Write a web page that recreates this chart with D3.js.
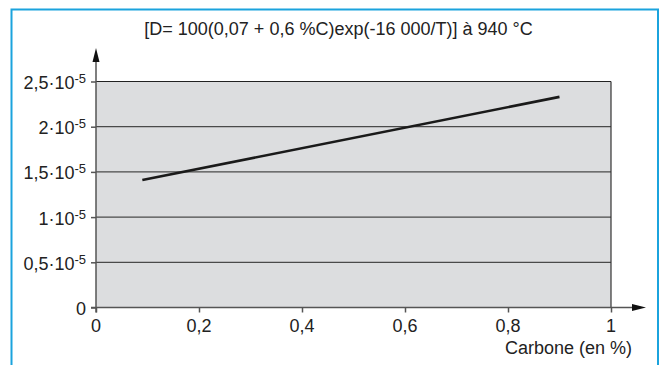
<!DOCTYPE html>
<html><head><meta charset="utf-8">
<script src="https://cdn.jsdelivr.net/npm/d3@7"></script>
<style>body{margin:0;background:#fff}svg{display:block;font-family:"Liberation Sans",Arial,sans-serif}</style>
</head><body>
<svg id="c" width="664" height="365"></svg>
<script>
const title = "[D= 100(0,07 + 0,6 %C)exp(-16 000/T)] à 940 °C";
const xLabel = "Carbone (en %)";
const xTicks = [0, 0.2, 0.4, 0.6, 0.8, 1];
const xTickLabels = ["0", "0,2", "0,4", "0,6", "0,8", "1"];
const yTicks = [0, 0.5e-5, 1e-5, 1.5e-5, 2e-5, 2.5e-5];
const yTickMant = ["0", "0,5", "1", "1,5", "2", "2,5"];
const carbon = [0.09, 0.9];
const diffusivity = [1.41e-5, 2.33e-5];

const svg = d3.select("#c");
const x = d3.scaleLinear().domain([0, 1]).range([96, 611]);
const y = d3.scaleLinear().domain([0, 2.5e-5]).range([307.5, 81.5]);

// frame
svg.append("path").attr("d", "M11.5,365 V9.5 H658 V365").attr("fill","none").attr("stroke","#1ba3dd").attr("stroke-width",2);

// plot background
svg.append("rect").attr("x", x(0)).attr("y", y(2.5e-5)).attr("width", x(1)-x(0)).attr("height", y(0)-y(2.5e-5)).attr("fill", "#dcdddf");

// grid
svg.append("g").selectAll("line").data(yTicks.filter(d=>d>0)).join("line")
  .attr("x1", x(0)).attr("x2", x(1)).attr("y1", d=>y(d)).attr("y2", d=>y(d))
  .attr("stroke", d=> d===2.5e-5 ? "#222" : "#4a4a4a").attr("stroke-width", 1.2);
svg.append("line").attr("x1", x(1)).attr("x2", x(1)).attr("y1", y(2.5e-5)).attr("y2", y(0)).attr("stroke","#333").attr("stroke-width",1.2);

// axes
const yAxis = d3.axisLeft(y).tickValues(yTicks).tickSize(5).tickFormat("");
const gy = svg.append("g").attr("transform", `translate(${x(0)},0)`).call(yAxis);
gy.select(".domain").remove();
gy.selectAll(".tick line").attr("stroke","#555").attr("stroke-width",1.5);
const xAxis = d3.axisBottom(x).tickValues(xTicks).tickSize(5).tickFormat("");
const gx = svg.append("g").attr("transform", `translate(0,${y(0)})`).call(xAxis);
gx.select(".domain").remove();
gx.selectAll(".tick line").attr("stroke","#555").attr("stroke-width",1.5);

svg.append("line").attr("x1", x(0)).attr("x2", x(0)).attr("y1", y(0)+5).attr("y2", 58).attr("stroke","#555").attr("stroke-width",1.5);
svg.append("line").attr("x1", x(0)-5).attr("x2", 636).attr("y1", y(0)).attr("y2", y(0)).attr("stroke","#555").attr("stroke-width",1.5);
svg.append("path").attr("d", `M${x(0)},48 L${x(0)+3.5},62 L${x(0)-3.5},62 Z`).attr("fill","#111");
svg.append("path").attr("d", `M646,${y(0)} L632,${y(0)-3.5} L632,${y(0)+3.5} Z`).attr("fill","#111");

// tick labels
svg.append("g").selectAll("text").data(xTicks).join("text")
  .attr("x", d=>x(d)).attr("y", 332).attr("text-anchor","middle")
  .attr("font-size", 18).attr("fill","#222").text((d,i)=>xTickLabels[i]);

const yl = svg.append("g").selectAll("text").data(yTicks).join("text")
  .attr("x", 86).attr("y", d=>y(d)+7.5).attr("text-anchor","end")
  .attr("font-size", 18).attr("fill","#222");
yl.each(function(d,i){
  const t = d3.select(this);
  if (d === 0) { t.text("0"); return; }
  t.append("tspan").text(yTickMant[i] + "·10");
  t.append("tspan").attr("dy", -6).attr("font-size", 13).text("-5");
});

// title & x label
svg.append("text").attr("x", 338.5).attr("y", 35).attr("text-anchor","middle").attr("font-size",18).attr("fill","#222").text(title);
svg.append("text").attr("x", 632).attr("y", 354).attr("text-anchor","end").attr("font-size",18).attr("fill","#222").text(xLabel);

// data line
const pts = carbon.map((c,i)=>[c, diffusivity[i]]);
svg.append("path").datum(pts).attr("fill","none").attr("stroke","#1a1a1a").attr("stroke-width",2.6)
  .attr("d", d3.line().x(d=>x(d[0])).y(d=>y(d[1])));
</script>
</body></html>
